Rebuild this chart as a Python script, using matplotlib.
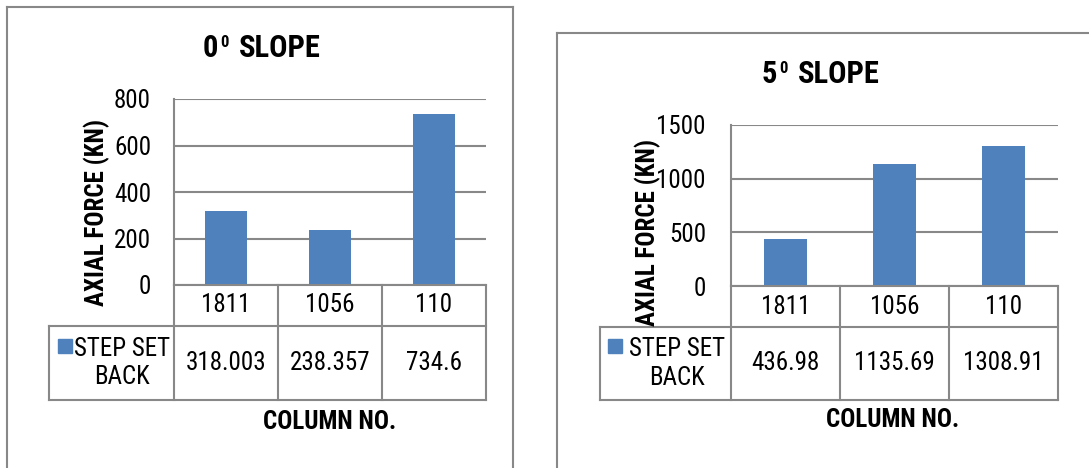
import matplotlib
matplotlib.use("Agg")
import matplotlib.pyplot as plt
from matplotlib.lines import Line2D
from matplotlib.patches import Rectangle

# Data
columns = ["1811", "1056", "110"]
series_name = "STEP SET\nBACK"
force_0deg = [318.003, 238.357, 734.6]
force_5deg = [436.98, 1135.69, 1308.91]
ticks_0deg = [0, 200, 400, 600, 800]
ticks_5deg = [0, 500, 1000, 1500]

W, H = 1089, 468
BAR = "#4F81BD"
GRID = "#888888"
FONT = ["Roboto Condensed", "DejaVu Sans"]
plt.rcParams["font.family"] = FONT
FS = 18

fig = plt.figure(figsize=(W / 100, H / 100), dpi=100)


def fx(x):
    return x / W


def fy(y):
    return 1 - y / H


def hline(x0, x1, y, lw=1.5, color=GRID):
    fig.add_artist(Line2D([fx(x0), fx(x1)], [fy(y), fy(y)], color=color, lw=lw,
                          transform=fig.transFigure, clip_on=False))


def vline(x, y0, y1, lw=1.5, color=GRID):
    fig.add_artist(Line2D([fx(x), fx(x)], [fy(y0), fy(y1)], color=color, lw=lw,
                          transform=fig.transFigure, clip_on=False))


def text(x, y, s, **kw):
    fig.text(fx(x), fy(y), s, **kw)


def chart(spec):
    L, T, R, B = spec["plot"]
    row1, row2 = spec["rows"]
    ax = fig.add_axes([fx(L), fy(B), fx(R) - fx(L), fy(T) - fy(B)])
    ax.set_facecolor("none")
    x = range(len(columns))
    ax.bar(x, spec["values"], width=0.4, color=BAR, zorder=3)
    ax.set_xlim(-0.5, len(columns) - 0.5)
    ax.set_ylim(spec["ticks"][0], spec["ticks"][-1])
    ax.set_yticks(spec["ticks"])
    ax.set_yticklabels([str(t) for t in spec["ticks"]], fontsize=FS)
    ax.tick_params(axis="y", length=0, pad=spec["pad"])
    ax.set_xticks([])
    ax.yaxis.grid(True, color=GRID, lw=1.5, zorder=0)
    for side in ("top", "right", "bottom"):
        ax.spines[side].set_visible(False)
    ax.spines["left"].set_color(GRID)
    ax.spines["left"].set_linewidth(1.5)

    # data table beneath the plot
    tl = spec["table_left"]
    edges = [L + (R - L) * i / len(columns) for i in range(len(columns) + 1)]
    hline(L, R, B)
    hline(tl, R, row1)
    hline(tl, R, row2)
    for e in edges:
        vline(e, B, row2)
    vline(tl, row1, row2)
    for i, (c, v) in enumerate(zip(columns, spec["values"])):
        cx = (edges[i] + edges[i + 1]) / 2
        text(cx, (B + row1) / 2, c, fontsize=FS, ha="center", va="center")
        text(cx, (row1 + row2) / 2, f"{v:g}", fontsize=FS, ha="center", va="center")
    mx, my = spec["marker"]
    fig.add_artist(Rectangle((fx(mx), fy(my + 14)), fx(14), 14 / H, color=BAR,
                             transform=fig.transFigure))
    text(spec["legend_x"], (row1 + row2) / 2, series_name, fontsize=FS, ha="center",
         va="center", multialignment="center", linespacing=1.25)

    # titles
    tx, ty = spec["title"]
    text(tx, ty, spec["digit"], fontsize=22, fontweight="bold", ha="left", va="baseline")
    text(tx + 17, ty - 10, "0", fontsize=12, fontweight="bold", ha="left", va="baseline")
    text(tx + 36, ty, "SLOPE", fontsize=22, fontweight="bold", ha="left", va="baseline")
    yx, yy = spec["ylabel"]
    text(yx, yy, "AXIAL FORCE (KN)", fontsize=18, fontweight="bold", rotation=90,
         ha="center", va="center")
    cx, cy = spec["xlabel"]
    text(cx, cy, "COLUMN NO.", fontsize=18, fontweight="bold", ha="center", va="center")

    # chart frame
    fl, ft, fr = spec["frame"]
    vline(fl, ft, H + 5)
    hline(fl, fr, ft)
    vline(fr, ft, H + 5)


chart(dict(values=force_0deg, ticks=ticks_0deg, plot=(174, 99, 486, 285),
           rows=(326, 400), table_left=49, pad=16.5, marker=(58, 339), legend_x=122,
           title=(203, 57), digit="0", ylabel=(97, 212), xlabel=(330, 422),
           frame=(7, 7, 513)))
chart(dict(values=force_5deg, ticks=ticks_5deg, plot=(731, 125, 1058, 286),
           rows=(327, 400), table_left=600, pad=18, marker=(608, 339), legend_x=677,
           title=(762, 83), digit="5", ylabel=(648, 232), xlabel=(893, 420),
           frame=(557, 33, W + 10)))

fig.savefig("out.png", dpi=100)
